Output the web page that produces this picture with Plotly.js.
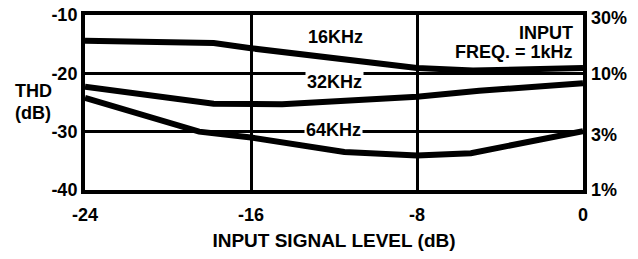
<!DOCTYPE html>
<html>
<head>
<meta charset="utf-8">
<script src="https://cdn.plot.ly/plotly-3.0.1.min.js"></script>
<style>
html,body{margin:0;padding:0;background:#fff;}
#chart{width:638px;height:259px;}
</style>
</head>
<body>
<div id="chart"></div>
<script>
// Input signal level (dB) and THD (dB) for each frequency
var x16 = [-24, -17.8, -16, -8, -5.3, 0];
var y16 = [-14.4, -14.8, -15.7, -19.1, -19.5, -19.1];

var x32 = [-24, -17.8, -14.5, -8, -5, 0];
var y32 = [-22.3, -25.2, -25.3, -24.0, -23.0, -21.7];

var x64 = [-24, -18.5, -16, -11.5, -8, -5.4, 0];
var y64 = [-24.2, -30.0, -31.0, -33.5, -34.1, -33.7, -29.9];

var xTicks = [-24, -16, -8, 0];
var yTicks = [-10, -20, -30, -40];
var rightPct = [30, 10, 3, 1];
var rightLabels = ['30%', '10%', '3%', '1%'];
var rightVals = rightPct.map(function(p){ return 20 * Math.log10(p / 100); });

var F = {family: '"Liberation Sans", Arial, Helvetica, sans-serif', size: 18, color: '#000', weight: 700};
var FT = {family: '"Liberation Sans", Arial, Helvetica, sans-serif', size: 19, color: '#000', weight: 700};

function line(x, y){
  return {x: x, y: y, type: 'scatter', mode: 'lines',
          line: {color: '#000', width: 6}, hoverinfo: 'skip', showlegend: false};
}

var data = [line(x16, y16), line(x32, y32), line(x64, y64),
  {x: [null], y: [null], yaxis: 'y2', type: 'scatter', mode: 'lines', hoverinfo: 'skip', showlegend: false}];

var layout = {
  width: 638, height: 259,
  margin: {l: 85, r: 55, t: 15, b: 69},
  paper_bgcolor: '#fff', plot_bgcolor: '#fff',
  font: F,
  xaxis: {
    range: [-24, 0], tickvals: xTicks, ticktext: xTicks.map(String),
    showgrid: true, gridcolor: '#000', gridwidth: 3,
    zeroline: false, showline: true, mirror: true, linecolor: '#000', linewidth: 4,
    ticks: '', ticklabelstandoff: 5, tickfont: F,
    title: {text: 'INPUT SIGNAL LEVEL (dB)', font: FT, standoff: 11}
  },
  yaxis: {
    range: [-40, -10], tickvals: yTicks, ticktext: yTicks.map(String),
    showgrid: true, gridcolor: '#000', gridwidth: 2.7,
    zeroline: false, showline: true, mirror: true, linecolor: '#000', linewidth: 4,
    ticks: '', ticklabelstandoff: 0, tickfont: F
  },
  yaxis2: {
    overlaying: 'y', side: 'right', range: [-40, -10],
    tickvals: rightVals, ticktext: rightLabels,
    showgrid: false, zeroline: false, showline: false,
    ticks: '', ticklabelstandoff: 7, tickfont: F
  },
  annotations: [
    {xref: 'paper', yref: 'paper', x: 0.503, y: 0.876, text: '16KHz', showarrow: false, font: F, xanchor: 'center', yanchor: 'middle'},
    {xref: 'paper', yref: 'paper', x: 0.501, y: 0.615, text: '32KHz', showarrow: false, font: F, xanchor: 'center', yanchor: 'middle', bgcolor: '#fff', borderpad: 1},
    {xref: 'paper', yref: 'paper', x: 0.499, y: 0.345, text: '64KHz', showarrow: false, font: F, xanchor: 'center', yanchor: 'middle', bgcolor: '#fff', borderpad: 1},
    {xref: 'paper', yref: 'paper', x: 0.984, y: 0.897, text: 'INPUT', showarrow: false, font: F, xanchor: 'right', yanchor: 'middle'},
    {xref: 'paper', yref: 'paper', x: 0.984, y: 0.790, text: 'FREQ. = 1kHz', showarrow: false, font: F, xanchor: 'right', yanchor: 'middle'},
    {xref: 'paper', yref: 'paper', x: -0.103, y: 0.565, text: 'THD', showarrow: false, font: F, xanchor: 'center', yanchor: 'middle'},
    {xref: 'paper', yref: 'paper', x: -0.105, y: 0.442, text: '(dB)', showarrow: false, font: F, xanchor: 'center', yanchor: 'middle'}
  ]
};

Plotly.newPlot('chart', data, layout, {staticPlot: true, displayModeBar: false});
</script>
</body>
</html>
